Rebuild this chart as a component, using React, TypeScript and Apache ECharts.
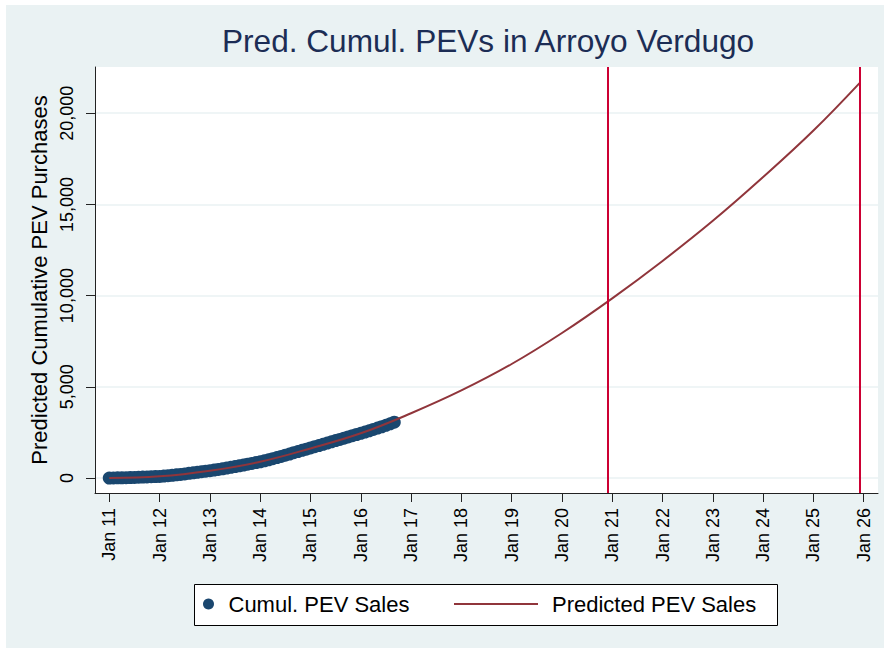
import { useEffect, useRef } from "react";
import * as echarts from "echarts";

const chartTitle = "Pred. Cumul. PEVs in Arroyo Verdugo";
const yAxisTitle = "Predicted Cumulative PEV Purchases";
const scatterName = "Cumul. PEV Sales";
const lineName = "Predicted PEV Sales";

// Monthly cumulative PEV sales, Jan 2011 (month 0) to Sep 2016 (month 68)
const cumulSales = [
  0, 4, 8, 13, 19, 26, 34, 42, 51, 61, 72, 80,
  88, 105, 125, 148, 172, 198, 225, 255, 285, 315, 348, 375,
  400, 435, 470, 505, 545, 585, 625, 668, 712, 755, 800, 845,
  890, 945, 1000, 1060, 1120, 1185, 1250, 1315, 1385, 1450, 1515, 1580,
  1650, 1715, 1780, 1850, 1915, 1985, 2050, 2115, 2185, 2250, 2320, 2385,
  2450, 2520, 2590, 2660, 2735, 2810, 2890, 2970, 3060,
];

// Predicted cumulative purchases (months since Jan 2011)
const predMonths = [0, 12, 24, 36, 48, 60, 72, 84, 96, 108, 120, 132, 144, 156, 168, 179];
const predValues = [0, 90, 400, 890, 1620, 2450, 3550, 4800, 6250, 7950, 9850, 11900, 14100, 16500, 19050, 21650];

const xTickMonths = [0, 12, 24, 36, 48, 60, 72, 84, 96, 108, 120, 132, 144, 156, 168, 180];
const xTickLabels = [
  "Jan 11", "Jan 12", "Jan 13", "Jan 14", "Jan 15", "Jan 16", "Jan 17", "Jan 18",
  "Jan 19", "Jan 20", "Jan 21", "Jan 22", "Jan 23", "Jan 24", "Jan 25", "Jan 26",
];
const yTicks = [0, 5000, 10000, 15000, 20000];
const yTickLabels = ["0", "5,000", "10,000", "15,000", "20,000"];

// Vertical reference lines (Dec 2020, Dec 2025)
const markerMonths = [119, 179];

const FONT = "'Liberation Sans', Arial, Helvetica, sans-serif";

export default function App() {
  const ref = useRef<HTMLDivElement>(null);

  useEffect(() => {
    document.body.style.margin = "0";
    if (!ref.current) return;
    const chart = echarts.init(ref.current, null, { renderer: "svg" });
    chart.setOption({
      animation: false,
      backgroundColor: "#EAF2F3",
      textStyle: { fontFamily: FONT },
      title: {
        text: chartTitle,
        left: 216,
        top: 20,
        padding: 0,
        textStyle: { fontSize: 31.6, fontWeight: "normal", color: "#1C2D55", fontFamily: FONT },
      },
      grid: {
        left: 89,
        top: 62,
        right: 6,
        bottom: 155,
        show: true,
        backgroundColor: "#FFFFFF",
        borderWidth: 0,
      },
      xAxis: {
        type: "value",
        min: -3.4,
        max: 183.4,
        axisLine: { show: true, onZero: false, lineStyle: { color: "#222", width: 1 } },
        axisTick: { show: true, customValues: xTickMonths, length: 9, lineStyle: { color: "#222" } },
        axisLabel: {
          customValues: xTickMonths,
          rotate: 90,
          margin: 15,
          fontSize: 18,
          color: "#000",
          fontFamily: FONT,
          formatter: (v: number) => xTickLabels[xTickMonths.indexOf(Math.round(v))] ?? "",
        },
        splitLine: { show: false },
      },
      yAxis: {
        type: "value",
        min: -822,
        max: 22533,
        name: yAxisTitle,
        nameLocation: "middle",
        nameRotate: 90,
        nameGap: 40,
        nameTextStyle: { fontSize: 22, color: "#000", fontFamily: FONT },
        axisLine: { show: true, onZero: false, lineStyle: { color: "#222", width: 1 } },
        axisTick: { show: true, customValues: yTicks, length: 9, lineStyle: { color: "#222" } },
        axisLabel: {
          customValues: yTicks,
          rotate: 90,
          margin: 19,
          fontSize: 18,
          color: "#000",
          fontFamily: FONT,
          formatter: (v: number) => yTickLabels[yTicks.indexOf(Math.round(v))] ?? "",
        },
        splitLine: { show: true, lineStyle: { color: "#EAF2F3", width: 1.5 } },
      },
      legend: [
        {
          data: [scatterName],
          left: 197,
          top: 588,
          padding: 0,
          itemWidth: 30,
          itemHeight: 11,
          selectedMode: false,
          itemStyle: { opacity: 1 },
          textStyle: { fontSize: 22, color: "#000", fontFamily: FONT },
        },
        {
          data: [lineName],
          left: 447,
          top: 588,
          padding: 0,
          itemWidth: 84,
          itemHeight: 11,
          selectedMode: false,
          itemStyle: { opacity: 0 },
          lineStyle: { opacity: 1 },
          textStyle: { fontSize: 22, color: "#000", fontFamily: FONT, padding: [0, 0, 0, 9] },
        },
      ],
      graphic: [
        {
          type: "rect",
          z: 0,
          shape: { x: 188.5, y: 579.5, width: 583, height: 41 },
          style: { fill: "#FFFFFF", stroke: "#000", lineWidth: 1 },
        },
      ],
      series: [
        {
          name: scatterName,
          type: "scatter",
          data: cumulSales.map((v, i) => [i, v]),
          symbol: "circle",
          symbolSize: 13,
          itemStyle: { color: "#1A476F", opacity: 1 },
          z: 2,
        },
        {
          name: lineName,
          type: "line",
          data: predMonths.map((m, i) => [m, predValues[i]]),
          smooth: 0.4,
          symbol: "none",
          showSymbol: false,
          lineStyle: { color: "#90353B", width: 2 },
          itemStyle: { color: "#90353B" },
          z: 3,
          markLine: {
            silent: true,
            symbol: ["none", "none"],
            label: { show: false },
            lineStyle: { color: "#CC0033", width: 2, type: "solid" },
            emphasis: { disabled: true },
            data: markerMonths.map((m) => ({ xAxis: m })),
          },
        },
      ],
    });
    return () => chart.dispose();
  }, []);

  return (
    <div style={{ position: "absolute", left: 0, top: 0, width: 890, height: 654, background: "#FFFFFF" }}>
      <div ref={ref} style={{ position: "absolute", left: 6, top: 5, width: 878, height: 643 }} />
    </div>
  );
}
